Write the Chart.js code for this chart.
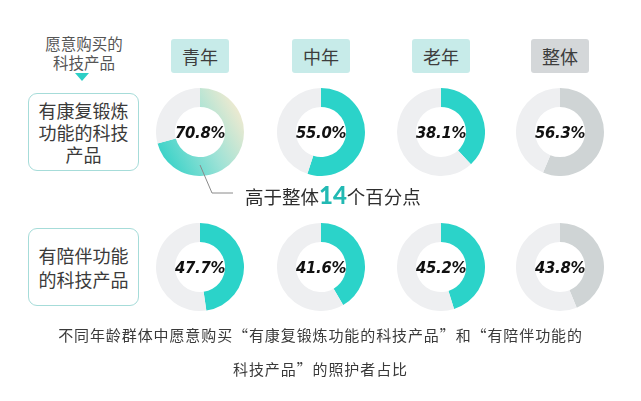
<!DOCTYPE html>
<html>
<head>
<meta charset="utf-8">
<script src="https://cdn.jsdelivr.net/npm/chart.js@4"></script>
<style>
  html, body { margin: 0; padding: 0; background: #fff; }
  #wrap { position: relative; width: 641px; height: 401px; overflow: hidden;
          font-family: "Noto Sans CJK SC", "Noto Sans", sans-serif; color: #3a3a3a; }
  .abs { position: absolute; }
  .head { text-align: center; font-size: 15.5px; line-height: 19px; color: #555; }
  .tri { width: 0; height: 0; border-left: 7px solid transparent; border-right: 7px solid transparent;
         border-top: 8px solid #2ccfc6; }
  .col { width: 58px; height: 34px; border-radius: 3px; font-size: 18px; line-height: 34px;
         text-align: center; color: #3d3d3d; }
  .rowbox { border: 1px solid #a6dcd9; border-radius: 9px; box-sizing: border-box;
            display: flex; align-items: center; justify-content: center; text-align: center;
            font-size: 18px; line-height: 22px; color: #3a3a3a; }
  .pct { width: 88px; height: 88px; display: flex; align-items: center; justify-content: center;
         font-family: "DejaVu Sans Condensed", "DejaVu Sans", sans-serif; font-weight: bold;
         font-style: italic; font-size: 16.5px; letter-spacing: -0.3px; color: #111; pointer-events: none; }
  .cap { width: 641px; text-align: center; font-size: 15px; color: #3a3a3a; letter-spacing: 0.9px; }
</style>
</head>
<body>
<div id="wrap"></div>
<script>
// 数据
const groups = ['青年', '中年', '老年', '整体'];
const products = ['有康复锻炼\n功能的科技\n产品', '有陪伴功能\n的科技产品'];
const rehabShare = [70.8, 55.0, 38.1, 56.3];
const companionShare = [47.7, 41.6, 45.2, 43.8];
const gapPoints = 14;
const caption = ['不同年龄群体中愿意购买“有康复锻炼功能的科技产品”和“有陪伴功能的', '科技产品”的照护者占比'];

const TEAL = '#2bd3c9';
const GREY = '#cfd4d5';
const TRACK = '#eeeff1';

const wrap = document.getElementById('wrap');
const colX = [200, 321, 441, 560];
const rowY = [132, 267];
const R = 44;

function add(cls, css, html) {
  const d = document.createElement('div');
  d.className = 'abs ' + cls;
  Object.assign(d.style, css);
  if (html !== undefined) d.innerHTML = html;
  wrap.appendChild(d);
  return d;
}

// 左上角标题
add('head', { left: '34px', top: '34px', width: '100px' }, '愿意购买的<br>科技产品');
add('tri', { left: '75px', top: '73px' });

// 列标题
groups.forEach((g, i) => {
  add('col', { left: (colX[i] - 29) + 'px', top: '39px',
               background: i === 3 ? '#d4d7d9' : '#c7ebe9' }, g);
});

// 行标题
add('rowbox', { left: '28px', top: '93px', width: '111px', height: '78px' }, products[0].replace(/\n/g, '<br>'));
add('rowbox', { left: '28px', top: '228px', width: '111px', height: '78px', lineHeight: '24px' }, products[1].replace(/\n/g, '<br>'));

// 环形图
function ring(value, cx, cy, fill, gradient) {
  const box = add('', { left: (cx - R) + 'px', top: (cy - R) + 'px', width: (2 * R) + 'px', height: (2 * R) + 'px' });
  const cv = document.createElement('canvas');
  cv.width = 2 * R; cv.height = 2 * R;
  box.appendChild(cv);
  new Chart(cv.getContext('2d'), {
    type: 'doughnut',
    data: {
      labels: ['愿意购买', '其他'],
      datasets: [{
        data: [value, 100 - value],
        backgroundColor: (ctx) => {
          if (ctx.dataIndex === 1) return TRACK;
          if (!gradient) return fill;
          const area = ctx.chart.chartArea;
          if (!area) return fill;
          const w = area.right - area.left, h = area.bottom - area.top;
          const g = ctx.chart.ctx.createLinearGradient(area.left, area.top + h * 0.85, area.right, area.top + h * 0.3);
          g.addColorStop(0, '#2ad0c6');
          g.addColorStop(0.55, '#9de2d6');
          g.addColorStop(1, '#f1ead0');
          return g;
        },
        borderWidth: 0
      }]
    },
    options: {
      responsive: false,
      animation: false,
      cutout: '57%',
      layout: { padding: 0 },
      plugins: { legend: { display: false }, tooltip: { enabled: false } }
    }
  });
  add('pct', { left: (cx - R) + 'px', top: (cy - R) + 'px' }, value.toFixed(1) + '%');
}

[rehabShare, companionShare].forEach((series, r) => {
  series.forEach((v, i) => {
    ring(v, colX[i], rowY[r], i === 3 ? GREY : TEAL, r === 0 && i === 0);
  });
});

// 注释
const svgNS = 'http://www.w3.org/2000/svg';
const svg = document.createElementNS(svgNS, 'svg');
svg.setAttribute('width', '641'); svg.setAttribute('height', '401');
svg.style.position = 'absolute'; svg.style.left = '0'; svg.style.top = '0';
const pl = document.createElementNS(svgNS, 'polyline');
pl.setAttribute('points', '200,165 212,193 233,193');
pl.setAttribute('fill', 'none'); pl.setAttribute('stroke', '#8a8a8a'); pl.setAttribute('stroke-width', '1');
svg.appendChild(pl);
wrap.appendChild(svg);

add('', { left: '245px', top: '181px', fontSize: '18.5px', lineHeight: '28px', color: '#2e2e2e', whiteSpace: 'nowrap' },
  '高于整体<span style="font-family:Lato,Roboto,sans-serif;font-weight:900;font-size:24px;color:#22b9b3;">' +
  gapPoints + '</span>个百分点');

// 说明文字
add('cap', { left: '0px', top: '324px' }, caption[0]);
add('cap', { left: '0px', top: '358px' }, caption[1]);
</script>
</body>
</html>
